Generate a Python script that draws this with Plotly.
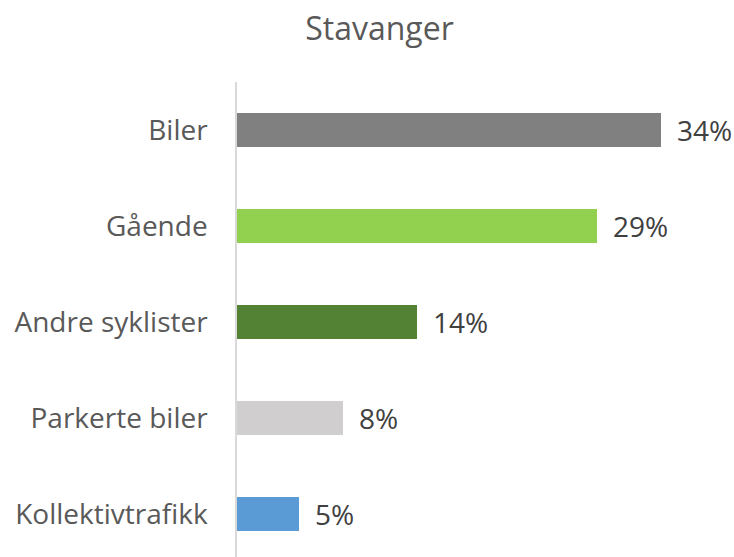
import plotly.graph_objects as go

categories = ["Kollektivtrafikk", "Parkerte biler", "Andre syklister", "Gående", "Biler"]
# bar lengths; the labels are the printed rounded values
values = [5.0, 8.5, 14.4, 28.9, 34.0]
labels = ["5%", "8%", "14%", "29%", "34%"]
colors = ["#5B9BD5", "#D0CECE", "#548235", "#92D050", "#808080"]
positions = list(range(len(categories)))

FONT = "Open Sans"

fig = go.Figure()
fig.add_trace(go.Bar(
    x=values, y=positions, orientation="h",
    marker=dict(color=colors, line=dict(width=0)),
    width=0.355, hoverinfo="skip", showlegend=False,
))

for v, p, t in zip(values, positions, labels):
    fig.add_annotation(x=v, y=p, text=t, showarrow=False, xanchor="left",
                       yanchor="middle", xshift=14,
                       font=dict(family=FONT, size=28, color="#404040"))

fig.update_layout(
    width=734, height=557,
    margin=dict(l=237, r=20, t=82, b=0, autoexpand=False),
    paper_bgcolor="white", plot_bgcolor="white",
    title=dict(text="Stavanger", x=379.5 / 734, xref="container", xanchor="center",
               y=1 - 29 / 557, yref="container", yanchor="middle", automargin=False,
               font=dict(family=FONT, size=32, color="#595959")),
    xaxis=dict(range=[0, 38.25], showgrid=False, zeroline=False, showticklabels=False,
               showline=False, fixedrange=True, automargin=False),
    yaxis=dict(range=[-0.452, 4.506], tickvals=positions, ticktext=categories,
               showgrid=False, zeroline=False, showline=True, linecolor="#D9D9D9",
               linewidth=1.5, ticks="outside", ticklen=0, ticklabelstandoff=22,
               automargin=False, fixedrange=True,
               tickfont=dict(family=FONT, size=28, color="#595959")),
    bargap=0,
)

fig.write_html("out.html", config={"displayModeBar": False},
               post_script="document.body.style.margin='0';")
